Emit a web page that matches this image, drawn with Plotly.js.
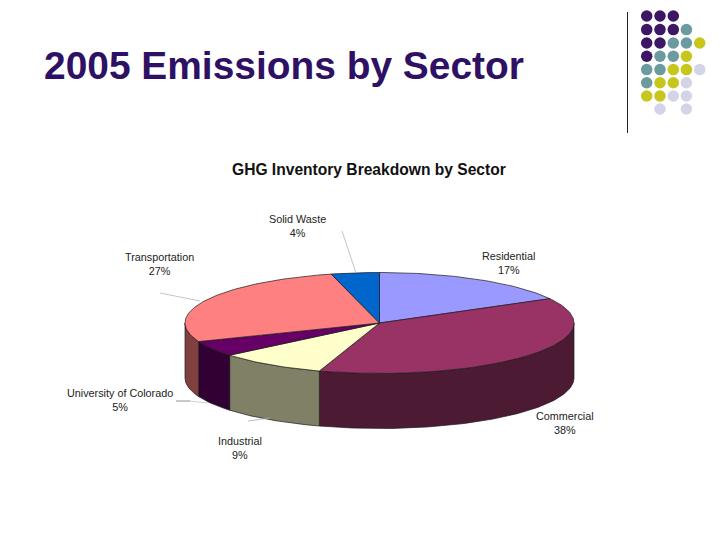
<!DOCTYPE html>
<html>
<head>
<meta charset="utf-8">
<script src="https://cdn.plot.ly/plotly-3.0.1.min.js"></script>
<style>html,body{margin:0;padding:0;background:#fff}#c{width:720px;height:540px}</style>
</head>
<body>
<div id="c"></div>
<script>
const sectors = ["Residential","Commercial","Industrial","University of Colorado","Transportation","Solid Waste"];
const shares = [17,38,9,5,27,4];
const topColors = ["#9999ff","#993366","#ffffcc","#660066","#ff8080","#0066cc"];
const wallColors = ["#4d4d80","#4d1a33","#808066","#330033","#804040","#003366"];
const labelX = [508,565,240,120,159,297];
const labelY = [263,423,448,400,264,226];

const dotRows = [
  "PPP","PPPT","PPTTY","PTTY","TTYYL","TYYL","YYLL"," L L"
];
const dotColors = {P:"#3d1763",T:"#6b9b9e",Y:"#c6c61c",L:"#d4d4e8"};
const dotColX = [646.7,660,673.3,686.4,699.7];
const dotRowY = [16,29.6,43,56.3,69.6,82.8,96,109];

const cx = 379.5, cy = 323, rx = 194.5, ry = 50.5, depth = 55;
const px = a => cx + rx*Math.sin(a*Math.PI/180);
const py = (a,dz) => cy - ry*Math.cos(a*Math.PI/180) + dz;

const traces = [];
function poly(xs, ys, color){
  traces.push({type:"scatter",mode:"lines",x:xs,y:ys,fill:"toself",fillcolor:color,
    line:{color:"#1a1a1a",width:0.7},hoverinfo:"skip",showlegend:false});
}
let start = 0;
const spans = shares.map(v => { const s=[start,start+v*3.6]; start+=v*3.6; return s; });

spans.forEach((s,i)=>{
  const a0=Math.max(s[0],90), a1=Math.min(s[1],270);
  if(a1<=a0) return;
  const xs=[],ys=[];
  for(let a=a0;a<a1;a+=1){xs.push(px(a));ys.push(py(a,0));}
  xs.push(px(a1));ys.push(py(a1,0));
  xs.push(px(a1));ys.push(py(a1,depth));
  for(let a=a1;a>a0;a-=1){xs.push(px(a));ys.push(py(a,depth));}
  xs.push(px(a0));ys.push(py(a0,depth));
  xs.push(px(a0));ys.push(py(a0,0));
  poly(xs,ys,wallColors[i]);
});
spans.forEach((s,i)=>{
  const xs=[cx],ys=[cy];
  for(let a=s[0];a<s[1];a+=1){xs.push(px(a));ys.push(py(a,0));}
  xs.push(px(s[1]));ys.push(py(s[1],0));
  xs.push(cx);ys.push(cy);
  poly(xs,ys,topColors[i]);
});

const dx=[],dy=[],dc=[];
dotRows.forEach((r,ri)=>{[...r].forEach((ch,ci)=>{
  if(dotColors[ch]){dx.push(dotColX[ci]);dy.push(dotRowY[ri]);dc.push(dotColors[ch]);}
});});
traces.push({type:"scatter",mode:"markers",x:dx,y:dy,marker:{size:11.5,color:dc,line:{width:0}},hoverinfo:"skip",showlegend:false});

const annotations = sectors.map((s,i)=>({
  xref:"x",yref:"y",x:labelX[i],y:labelY[i],text:s+"<br>"+shares[i]+"%",showarrow:false,
  align:"center",font:{family:"Liberation Sans, Arial",size:10.8,color:"#222"}
}));
annotations.push({xref:"x",yref:"y",x:42,y:65,xanchor:"left",text:"<b>2005 Emissions by Sector</b>",showarrow:false,
  font:{family:"Liberation Sans, Arial",size:38.9,color:"#2e1065"}});
annotations.push({xref:"x",yref:"y",x:369,y:169,text:"<b>GHG Inventory Breakdown by Sector</b>",showarrow:false,
  font:{family:"Liberation Sans, Arial",size:15.6,color:"#111"}});

const seg=(x0,y0,x1,y1,c,w)=>({type:"line",xref:"x",yref:"y",x0,y0,x1,y1,line:{color:c,width:w}});
const shapes=[
  seg(627.5,12,627.5,133,"#222",1),
  seg(342,231,356,273,"#aaa",0.7),
  seg(160,293,200,301,"#aaa",0.7),
  seg(176,401,190,401,"#777",0.8),
  seg(190,401,208,403,"#bbb",0.7),
  seg(248,421,270,418,"#aaa",0.8)
];

Plotly.newPlot("c",traces,{
  width:720,height:540,margin:{l:0,r:0,t:0,b:0},
  paper_bgcolor:"#fff",plot_bgcolor:"#fff",
  xaxis:{range:[0,720],visible:false,fixedrange:true},
  yaxis:{range:[540,0],visible:false,fixedrange:true},
  annotations,shapes,showlegend:false
},{displayModeBar:false,staticPlot:true});
</script>
</body>
</html>
